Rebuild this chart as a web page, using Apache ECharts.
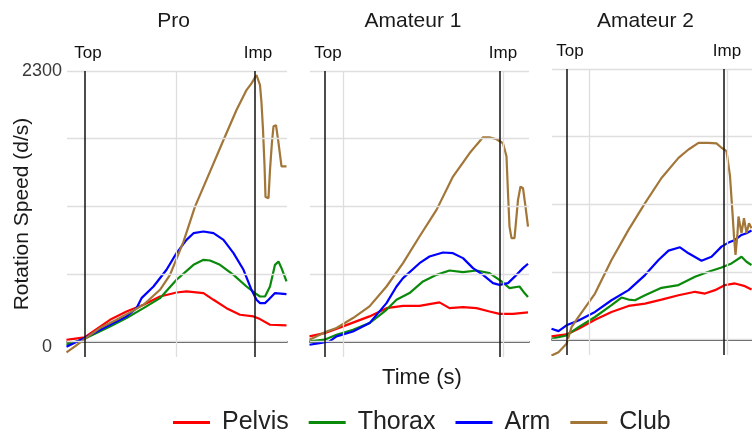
<!DOCTYPE html>
<html><head><meta charset="utf-8">
<script src="https://cdn.jsdelivr.net/npm/echarts@6/dist/echarts.min.js"></script>
<style>html,body{margin:0;padding:0;background:#fff}#c{width:752px;height:437px}</style>
</head><body><div id="c"></div>
<script>
// ---- data (time in ms from top of backswing, rotation speed in deg/s) ----
const panels = ["Pro", "Amateur 1", "Amateur 2"];
const seriesNames = ["Pelvis", "Thorax", "Arm", "Club"];
const xRanges = [[-36, 404], [-30, 408], [-30, 370]];
const topTimes = [0, 0, 0];
const impTimes = [340, 350, 314];
const gridTimes = [[182], [36, 356], [44, 321]];
const yGridValues = [0, 575, 1150, 1725, 2300];
const yLabelValues = [0, 2300];
const yRange = [-130, 2300];

const proPelvis = [[-37,15],[-1,36],[50,186],[83,257],[117,314],[150,384],[183,418],[203,427],[237,413],[257,356],[283,285],[310,229],[337,215],[350,192],[370,144],[403,138]];
const proThorax = [[-37,-25],[-1,25],[50,130],[83,201],[117,285],[150,370],[183,526],[217,653],[237,696],[250,690],[270,653],[297,568],[323,469],[340,413],[350,384],[360,384],[370,469],[380,653],[387,682],[393,625],[403,512]];
const proArm = [[-37,-42],[-1,31],[50,144],[83,215],[103,285],[113,370],[137,469],[163,611],[183,752],[203,865],[217,922],[237,936],[257,922],[277,865],[297,752],[317,611],[333,441],[343,356],[350,328],[360,328],[367,356],[380,413],[403,404]];
const proClub = [[-37,-90],[-20,-40],[-1,22],[30,116],[63,186],[90,249],[117,314],[150,441],[170,568],[197,851],[220,1148],[250,1445],[277,1714],[303,1969],[323,2138],[333,2195],[343,2266],[347,2255],[350,2180],[353,2030],[356,1800],[359,1500],[361,1230],[367,1220],[370,1460],[374,1700],[377,1830],[382,1840],[387,1690],[393,1490],[403,1490]];

const am1Pelvis = [[-31,45],[-1,73],[36,130],[89,215],[123,285],[156,305],[189,305],[229,334],[249,285],[276,294],[303,285],[329,257],[349,237],[376,237],[406,249]];
const am1Thorax = [[-31,2],[-1,17],[23,59],[56,102],[89,158],[123,271],[143,356],[169,413],[196,512],[223,568],[249,605],[276,591],[303,605],[329,582],[353,512],[369,455],[389,469],[399,413],[406,379]];
const am1Arm = [[-31,-26],[-11,-12],[9,2],[23,45],[56,87],[89,158],[123,328],[143,469],[156,540],[189,667],[209,724],[236,758],[256,752],[276,710],[296,625],[316,568],[336,498],[349,483],[366,498],[383,568],[396,625],[406,662]];
const am1Club = [[-31,17],[-1,79],[23,116],[56,201],[89,300],[123,469],[156,667],[189,894],[223,1120],[256,1403],[289,1601],[303,1672],[316,1737],[329,1737],[343,1720],[356,1686],[363,1573],[366,1261],[369,978],[373,880],[379,880],[386,1205],[391,1318],[396,1304],[401,1148],[406,978]];

const am2Pelvis = [[-31,28],[-1,45],[23,93],[56,170],[89,236],[123,287],[156,307],[189,341],[223,378],[256,407],[276,392],[296,421],[316,464],[336,478],[356,455],[369,427]];
const am2Thorax = [[-31,8],[-1,36],[23,107],[56,193],[89,293],[109,358],[123,341],[136,335],[156,378],[189,441],[223,464],[256,535],[283,577],[309,614],[329,648],[349,705],[359,662],[369,634]];
const am2Arm = [[-31,93],[-17,73],[-1,122],[23,164],[56,236],[89,335],[123,421],[156,549],[183,677],[203,757],[226,785],[243,734],[269,671],[289,705],[309,791],[323,825],[336,848],[349,890],[359,905],[369,927]];
const am2Club = [[-31,-135],[-17,-106],[-1,-35],[9,107],[23,193],[56,392],[89,677],[123,933],[156,1161],[189,1374],[223,1545],[243,1616],[263,1673],[283,1673],[299,1668],[309,1631],[319,1602],[326,1389],[331,1075],[334,876],[337,720],[341,905],[343,1047],[349,905],[354,1033],[359,905],[364,990],[369,947]];

const panelData = [
  [proPelvis, proThorax, proArm, proClub],
  [am1Pelvis, am1Thorax, am1Arm, am1Club],
  [am2Pelvis, am2Thorax, am2Arm, am2Club]
];

// ---- styling / layout ----
const FONT = "'Liberation Sans', Arial, sans-serif";
const colors = ["#FF0000", "#0A8A0A", "#0000FF", "#A27638"];
const gridBoxes = [
  {left: 67, top: 71, width: 220, height: 286, outerBoundsMode: 'none'},
  {left: 310, top: 71, width: 219, height: 286, outerBoundsMode: 'none'},
  {left: 552, top: 69, width: 200, height: 286, outerBoundsMode: 'none'}
];
const titlePos = [[173.5, 21], [413, 21], [645.5, 21]];

const chart = echarts.init(document.getElementById('c'));

const gridStyle = {color: '#dedede', width: 1.3, type: 'solid'};
const vStyle = {color: '#111', width: 1.5, type: 'solid'};
const markLabel = (txt) => ({show: true, position: 'end', formatter: txt, distance: 9,
  fontSize: 17, color: '#111', fontFamily: FONT, padding: [0, 0, 0, 6]});

const series = [];
panels.forEach((p, i) => {
  series.push({
    type: 'line', name: '_ref' + i, xAxisIndex: i, yAxisIndex: i, data: [], silent: true,
    clip: false, z: 1, animation: false,
    markLine: {
      silent: true, symbol: ['none', 'none'], animation: false,
      data: [
        ...yGridValues.map(v => ({yAxis: v, lineStyle: gridStyle, label: {show: false}})),
        ...gridTimes[i].map(v => ({xAxis: v, lineStyle: gridStyle, label: {show: false}})),
        {xAxis: topTimes[i], lineStyle: vStyle, label: markLabel('Top')},
        {xAxis: impTimes[i], lineStyle: vStyle, label: markLabel('Imp')}
      ]
    }
  });
  seriesNames.forEach((n, k) => {
    series.push({
      type: 'line', name: n, xAxisIndex: i, yAxisIndex: i, data: panelData[i][k],
      showSymbol: false, symbol: 'none', z: 3, animation: false,
      lineStyle: {color: colors[k], width: 2.2}, itemStyle: {color: colors[k]}
    });
  });
});

chart.setOption({
  animation: false,
  backgroundColor: '#fff',
  textStyle: {fontFamily: FONT},
  grid: gridBoxes,
  xAxis: panels.map((p, i) => ({
    gridIndex: i, type: 'value', min: xRanges[i][0], max: xRanges[i][1],
    axisLine: {show: true, onZero: true, lineStyle: {color: '#111', width: 1.5}},
    axisTick: {show: false}, axisLabel: {show: false}, splitLine: {show: false}
  })),
  yAxis: panels.map((p, i) => ({
    gridIndex: i, type: 'value', min: yRange[0], max: yRange[1],
    axisLine: {show: false}, splitLine: {show: false},
    axisTick: {show: i === 0, customValues: yGridValues, length: 4, lineStyle: {color: '#c8c8c8', width: 1.3}},
    axisLabel: {
      show: i === 0, customValues: yLabelValues, fontSize: 18, color: '#3a3a3a', margin: 5, fontFamily: FONT,
      formatter: v => v === 0 ? '{z|0}' : '{n|' + v + '}',
      rich: {z: {fontSize: 18, color: '#3a3a3a', padding: [10, 10, 0, 0]}, n: {fontSize: 18, color: '#3a3a3a'}}
    },
    name: i === 0 ? 'Rotation Speed (d/s)' : '', nameLocation: 'middle', nameGap: 34,
    nameMoveOverlap: false,
    nameTextStyle: {fontSize: 21, color: '#1a1a1a', fontFamily: FONT}
  })),
  legend: {
    data: seriesNames, left: 168, top: 405, icon: 'rect', itemWidth: 37, itemHeight: 3, itemGap: 20,
    textStyle: {fontSize: 25, color: '#222', fontFamily: FONT, padding: [0, 0, 0, 7]}
  },
  graphic: [
    ...panels.map((p, i) => ({type: 'text', x: titlePos[i][0], y: titlePos[i][1],
      style: {text: p, font: '21px ' + FONT, fill: '#1a1a1a', textAlign: 'center', textVerticalAlign: 'middle'}})),
    {type: 'text', x: 422, y: 378, style: {text: 'Time (s)', font: '22px ' + FONT, fill: '#1a1a1a', textAlign: 'center', textVerticalAlign: 'middle'}}
  ],
  series: series
});
</script>
</body></html>
